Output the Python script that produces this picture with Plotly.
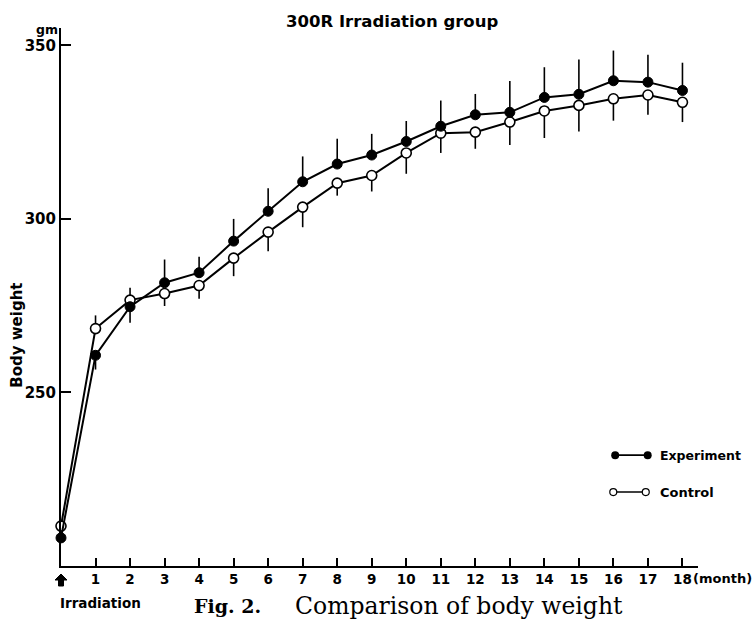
import plotly.graph_objects as go

months = list(range(0, 19))
exp_mean = [208.1, 260.7, 274.7, 281.6, 284.5, 293.6, 302.2, 310.7, 315.8, 318.4,
            322.3, 326.7, 330.0, 330.7, 335.0, 335.9, 339.8, 339.4, 337.0]
exp_err_up = [0, 0, 0, 6.7, 4.6, 6.4, 6.6, 7.3, 7.3, 6.1,
              5.9, 7.4, 6.0, 9.0, 8.7, 10.0, 8.7, 7.9, 8.0]
exp_err_down = [0, 4.1, 4.6, 0, 0, 0, 0, 0, 0, 0,
                0, 0, 0, 0, 0, 0, 0, 0, 0]
ctrl_mean = [211.5, 268.4, 276.6, 278.5, 280.8, 288.7, 296.2, 303.4, 310.3, 312.5,
             319.0, 324.7, 325.0, 327.9, 331.1, 332.7, 334.6, 335.7, 333.6]
ctrl_err_up = [0, 3.8, 3.6, 0, 0, 0, 0, 0, 0, 0,
               0, 0, 0, 0, 0, 0, 0, 0, 0]
ctrl_err_down = [0, 0, 0, 3.6, 3.8, 5.2, 5.5, 5.8, 3.6, 4.6,
                 6.0, 5.7, 4.8, 6.6, 7.8, 7.5, 6.3, 5.7, 5.7]
x_ticks = list(range(1, 19))
x_ticktext = [str(v) for v in x_ticks]
y_ticks = [250, 300, 350]

SANS = "DejaVu Sans"
SERIF = "DejaVu Serif"


def bold(size, family=SANS):
    return dict(family=family, size=size, color="black", weight="bold")


fig = go.Figure()

fig.add_trace(go.Scatter(
    x=months, y=ctrl_mean, mode="lines+markers", name="Control",
    line=dict(color="black", width=2),
    marker=dict(size=10, color="white", line=dict(color="black", width=1.6)),
    error_y=dict(type="data", symmetric=False, array=ctrl_err_up,
                 arrayminus=ctrl_err_down, width=0, thickness=1.6, color="black"),
    cliponaxis=False, showlegend=False))

fig.add_trace(go.Scatter(
    x=months, y=exp_mean, mode="lines+markers", name="Experiment",
    line=dict(color="black", width=2),
    marker=dict(size=10, color="black", line=dict(color="black", width=1)),
    error_y=dict(type="data", symmetric=False, array=exp_err_up,
                 arrayminus=exp_err_down, width=0, thickness=1.6, color="black"),
    cliponaxis=False, showlegend=False))

# legend glyphs on an overlay axis (fractions of the plot area)
fig.add_trace(go.Scatter(
    x=[0.870, 0.921], y=[0.206, 0.206], mode="lines+markers",
    line=dict(color="black", width=1.6),
    marker=dict(size=8, color="black"),
    xaxis="x2", yaxis="y2", showlegend=False, hoverinfo="skip", cliponaxis=False))
fig.add_trace(go.Scatter(
    x=[0.867, 0.918], y=[0.1375, 0.1375], mode="lines+markers",
    line=dict(color="black", width=1.4),
    marker=dict(size=7, color="white", line=dict(color="black", width=1.2)),
    xaxis="x2", yaxis="y2", showlegend=False, hoverinfo="skip", cliponaxis=False))

fig.update_layout(
    width=756, height=624,
    margin=dict(l=61, r=58, t=28, b=58),
    paper_bgcolor="white", plot_bgcolor="white",
    xaxis=dict(range=[0, 18.45], tickvals=x_ticks, ticktext=x_ticktext,
               ticks="inside", ticklen=8, tickwidth=1.6, tickcolor="black",
               showline=True, linecolor="black", linewidth=2,
               showgrid=False, zeroline=False, tickfont=bold(13.5)),
    yaxis=dict(range=[200, 355], tickvals=y_ticks,
               ticks="inside", ticklen=10, tickwidth=1.6, tickcolor="black",
               showline=True, linecolor="black", linewidth=2,
               showgrid=False, zeroline=False, tickfont=bold(15)),
    xaxis2=dict(range=[0, 1], overlaying="x", visible=False, anchor="y2"),
    yaxis2=dict(range=[0, 1], overlaying="y", visible=False, anchor="x2"),
)

# up-arrow marking the irradiation at month 0 (pixel-sized glyph at the plot's left edge)
fig.add_shape(type="path", xref="paper", yref="paper", xsizemode="pixel", ysizemode="pixel",
              xanchor=0, yanchor=0,
              path="M 0,-8 L 6,-14 L 2.5,-14 L 2.5,-20 L -2.5,-20 L -2.5,-14 L -6,-14 Z",
              fillcolor="black", line=dict(color="black", width=1), layer="above")

fig.add_annotation(text="300R Irradiation group", xref="paper", yref="paper",
                   x=0.519, y=1.0, yshift=7, xanchor="center", yanchor="middle",
                   showarrow=False, font=bold(16.5))
fig.add_annotation(text="gm", xref="paper", yref="y", x=0, y=350, xshift=-1, yshift=16,
                   xanchor="right", yanchor="middle", showarrow=False, font=bold(12.5))
fig.add_annotation(text="Body weight", xref="paper", yref="paper", x=0, xshift=-44,
                   y=0.428, textangle=-90, xanchor="center", yanchor="middle",
                   showarrow=False, font=bold(15))
fig.add_annotation(text="Irradiation", xref="x", yref="paper", x=0, y=0, yshift=-37,
                   xshift=-3, xanchor="left", yanchor="middle",
                   showarrow=False, font=bold(13.5))
fig.add_annotation(text="(month)", xref="x", yref="paper", x=18, y=0, xshift=9, yshift=-12,
                   xanchor="left", yanchor="middle", showarrow=False, font=bold(13))
fig.add_annotation(text="Experiment", xref="paper", yref="paper", x=0.937, y=0.206,
                   xanchor="left", yanchor="middle", showarrow=False, font=bold(12.5))
fig.add_annotation(text="Control", xref="paper", yref="paper", x=0.937, y=0.1375,
                   xanchor="left", yanchor="middle", showarrow=False, font=bold(13))
fig.add_annotation(text="Fig. 2.", xref="paper", yref="paper", x=0.205, y=0, yshift=-40,
                   xanchor="left", yanchor="middle", showarrow=False, font=bold(19, SERIF))
fig.add_annotation(text="Comparison of body weight",
                   xref="paper", yref="paper", x=0.364, y=0, yshift=-40,
                   xanchor="left", yanchor="middle", showarrow=False,
                   font=dict(family=SERIF, size=23.5, color="black"))

fig.write_html("out.html")
